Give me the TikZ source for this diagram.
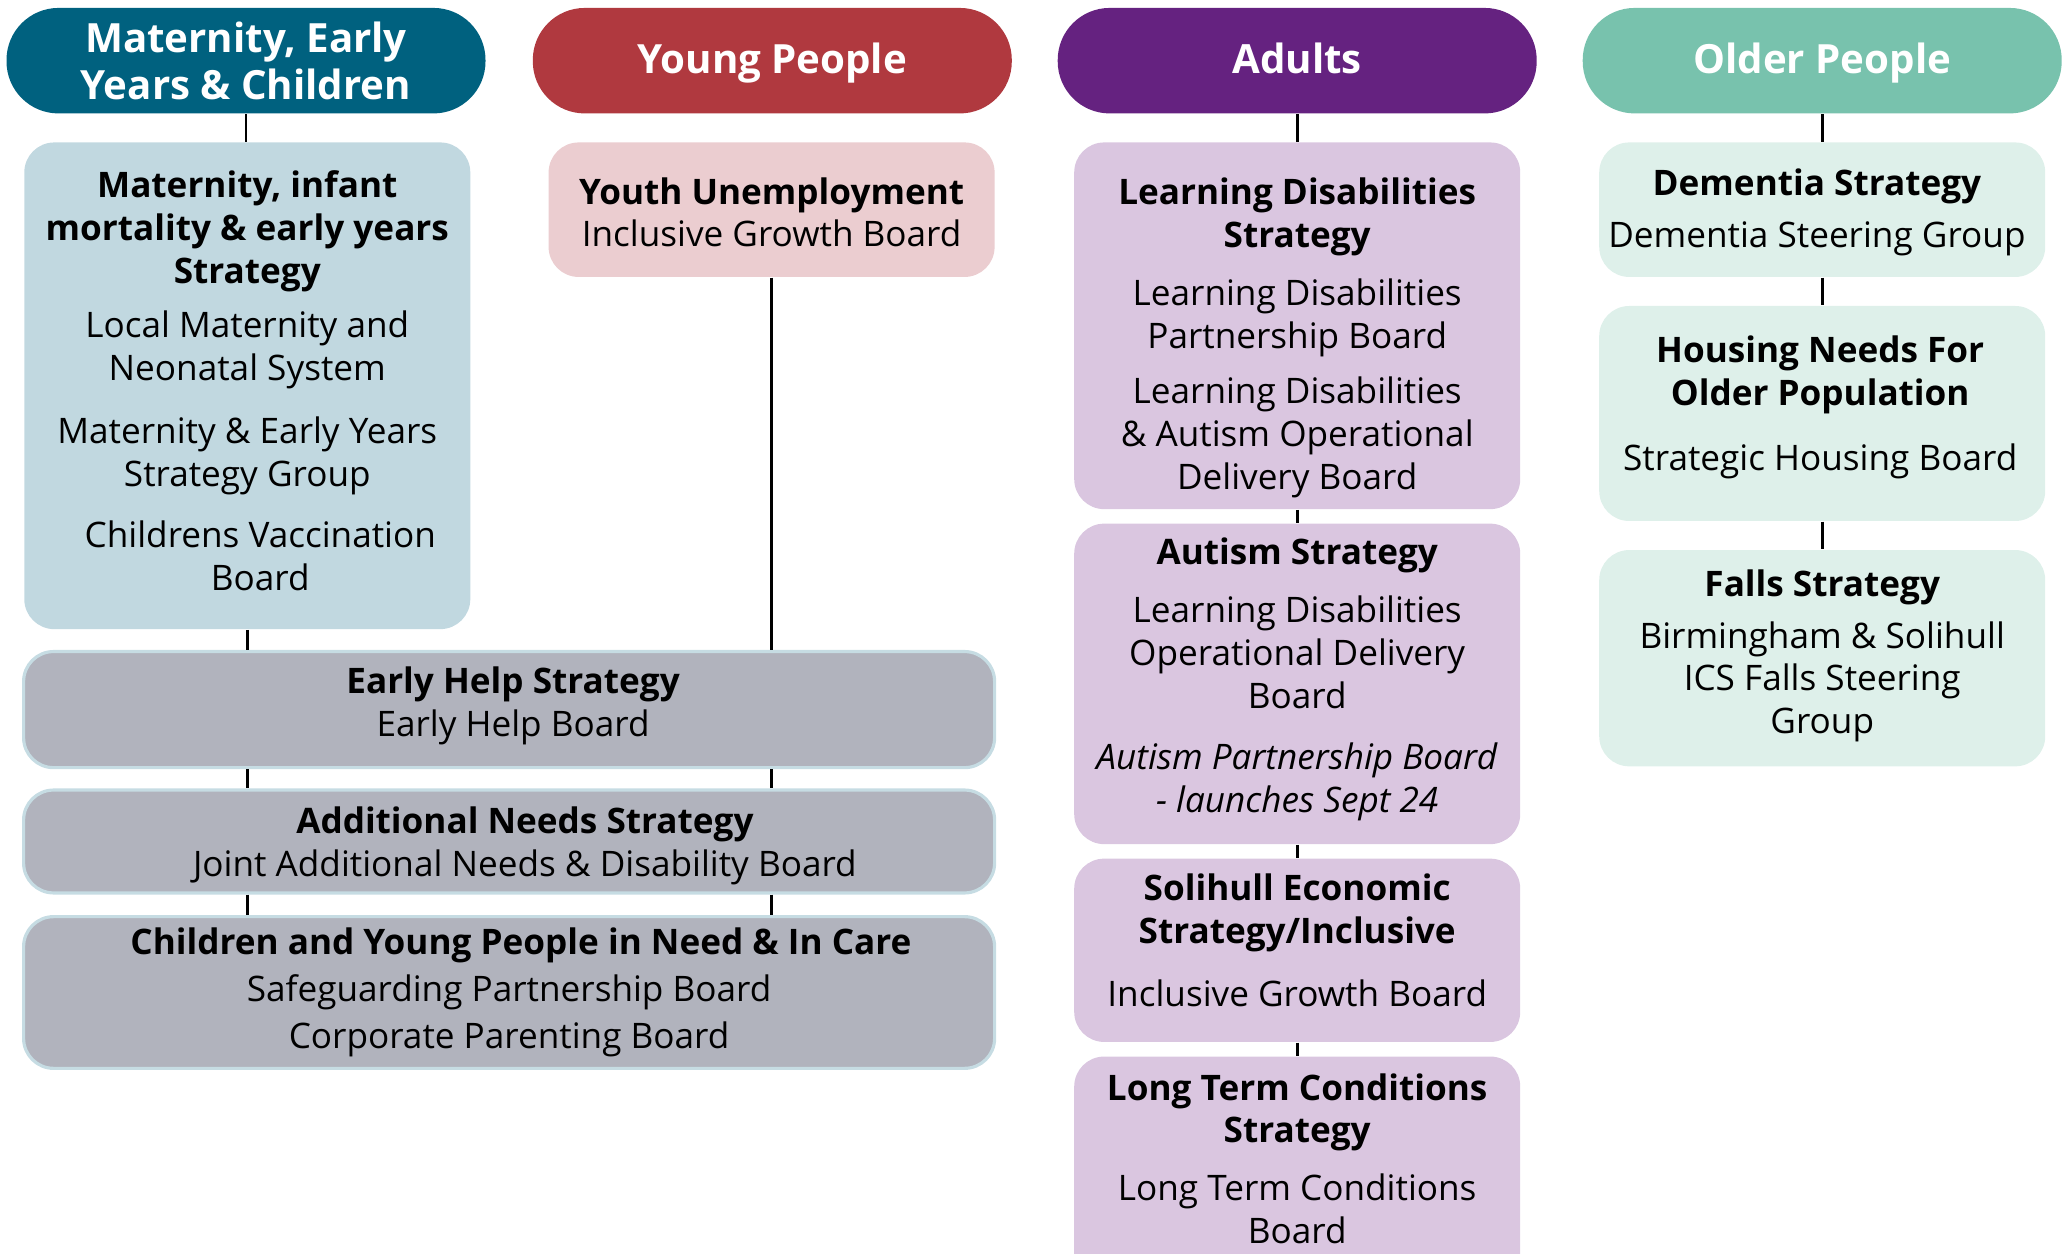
\documentclass[tikz,border=0pt]{standalone}
\usepackage{fontspec}
\setmainfont{Open Sans}
\usepackage{tikz}

\definecolor{matblue}{HTML}{00617F}
\definecolor{youngred}{HTML}{B0393F}
\definecolor{adultpurple}{HTML}{652280}
\definecolor{oldmint}{HTML}{78C2AD}
\definecolor{matfill}{HTML}{C1D8E0}
\definecolor{youngfill}{HTML}{EBCDD0}
\definecolor{greyfill}{HTML}{B1B3BD}
\definecolor{greyedge}{HTML}{C6DCE3}
\definecolor{adultfill}{HTML}{DAC6E0}
\definecolor{oldfill}{HTML}{DEF0EA}

\begin{document}
\begin{tikzpicture}[
  head/.style={rectangle, rounded corners=0.52cm, minimum width=4.79cm, minimum height=1.055cm, text=white, align=center, inner sep=1pt, font=\fontsize{11.45}{13.5}\selectfont\bfseries},
  headone/.style={head, text height=8.7pt, text depth=1.3pt},
  box/.style={rectangle, rounded corners=0.3cm, inner sep=0pt},
  colbox/.style={box, minimum width=4.46cm},
  widebox/.style={box, minimum width=9.71cm, fill=greyfill, draw=greyedge, line width=0.9pt},
  txt/.style={align=center, inner sep=0pt, font=\fontsize{10}{12.2}\selectfont},
  link/.style={line width=0.8pt, black}
]
\useasboundingbox (0,0) rectangle (20.67,-12.54);

%%%  nodes

% header nodes
\node [head, fill=matblue] (h1) at (2.46,-0.607) {Maternity, Early\\Years \& Children};
\node [headone, fill=youngred] (h2) at (7.723,-0.607) {Young People};
\node [headone, fill=adultpurple] (h3) at (12.972,-0.607) {Adults};
\node [headone, fill=oldmint] (h4) at (18.222,-0.607) {Older People};

% maternity and young people nodes
\node [colbox, fill=matfill, minimum height=4.867cm] (m1) at (2.473,-3.858) {};
\node [colbox, fill=youngfill, minimum height=1.345cm] (y1) at (7.716,-2.097) {};

% shared children nodes
\node [widebox, minimum height=1.161cm] (g1) at (5.091,-7.096) {};
\node [widebox, minimum height=1.029cm] (g2) at (5.091,-8.415) {};
\node [widebox, minimum height=1.517cm] (g3) at (5.091,-9.925) {};

% adult nodes
\node [colbox, fill=adultfill, minimum height=3.667cm] (a1) at (12.972,-3.258) {};
\node [colbox, fill=adultfill, minimum height=3.205cm] (a2) at (12.972,-6.839) {};
\node [colbox, fill=adultfill, minimum height=1.833cm] (a3) at (12.972,-9.503) {};
\node [colbox, fill=adultfill, minimum height=2.295cm] (a4) at (12.972,-11.713) {};

% older people nodes
\node [colbox, fill=oldfill, minimum height=1.345cm] (o1) at (18.222,-2.097) {};
\node [colbox, fill=oldfill, minimum height=2.150cm] (o2) at (18.222,-4.135) {};
\node [colbox, fill=oldfill, minimum height=2.163cm] (o3) at (18.222,-6.582) {};

% text nodes
\node [txt] (m1t) at (2.473,-3.805) {\textbf{Maternity, infant}\\\textbf{mortality \& early years}\\\textbf{Strategy}\\[3.2pt]Local Maternity and\\Neonatal System\\[5.8pt]Maternity \& Early Years\\Strategy Group\\[5.1pt]\hspace*{0.26cm}Childrens Vaccination\\\hspace*{0.26cm}Board};
\node [txt] (y1t) at (7.716,-2.123) {\textbf{Youth Unemployment}\\Inclusive Growth Board};
\node [txt] (g1t) at (5.131,-7.063) {\textbf{Early Help Strategy}\\Early Help Board};
\node [txt] (g2t) at (5.249,-8.461) {\textbf{Additional Needs Strategy}\\Joint Additional Needs \& Disability Board};
\node [txt] (g3t) at (5.091,-9.925) {\hspace*{6.75pt}\textbf{Children and Young People in Need \& In Care}\\[1pt]Safeguarding Partnership Board\\[1.2pt]Corporate Parenting Board};
\node [txt] (a1t) at (12.972,-3.377) {\textbf{Learning Disabilities}\\\textbf{Strategy}\\[4.3pt]Learning Disabilities\\Partnership Board\\[3.6pt]Learning Disabilities\\\& Autism Operational\\Delivery Board};
\node [txt] (a2t) at (12.972,-6.793) {\textbf{Autism Strategy}\\[4.3pt]Learning Disabilities\\Operational Delivery\\Board\\[5.1pt]\textit{Autism Partnership Board}\\\textit{- launches Sept 24}};
\node [txt] (a3t) at (12.972,-9.404) {\textbf{Solihull Economic}\\\textbf{Strategy/Inclusive}\\[5.8pt]Inclusive Growth Board};
\node [txt] (a4t) at (12.972,-11.588) {\textbf{Long Term Conditions}\\\textbf{Strategy}\\[4.3pt]Long Term Conditions\\Board};
\node [txt] (o1t) at (18.169,-2.123) {\textbf{Dementia Strategy}\\[2.8pt]Dementia Steering Group};
\node [txt] (o2t) at (18.202,-4.076) {\textbf{Housing Needs For}\\\textbf{Older Population}\\[6.2pt]Strategic Housing Board};
\node [txt] (o3t) at (18.222,-6.562) {\textbf{Falls Strategy}\\[2.4pt]Birmingham \& Solihull\\ICS Falls Steering\\Group};

%%% edges

% maternity
\draw (h1.south) [link] to (h1.south |- m1.north);
\draw (m1.south) [link] to (g1.north -| m1.south);

% young people
\draw (y1.south) [link] to (g1.north -| y1.south);

% shared
\draw (g1.south -| m1.south) [link] to (g2.north -| m1.south);
\draw (g1.south -| y1.south) [link] to (g2.north -| y1.south);
\draw (g2.south -| m1.south) [link] to (g3.north -| m1.south);
\draw (g2.south -| y1.south) [link] to (g3.north -| y1.south);

% adults
\draw (h3) [link] to (a1);
\draw (a1) [link] to (a2);
\draw (a2) [link] to (a3);
\draw (a3) [link] to (a4);

% older people
\draw (h4) [link] to (o1);
\draw (o1) [link] to (o2);
\draw (o2) [link] to (o3);
\end{tikzpicture}
\end{document}
